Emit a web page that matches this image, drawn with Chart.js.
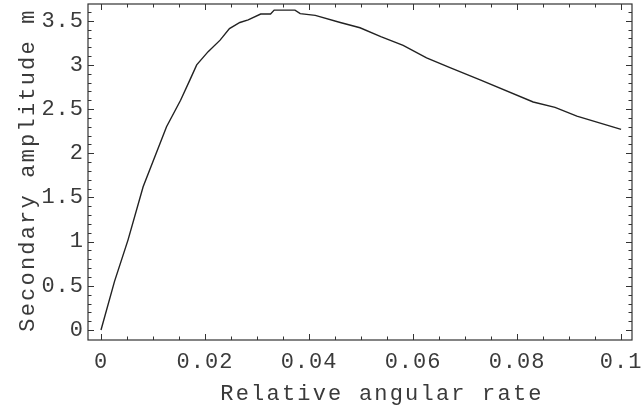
<!DOCTYPE html>
<html><head><meta charset="utf-8">
<script src="https://cdn.jsdelivr.net/npm/chart.js@4/dist/chart.umd.min.js"></script>
<style>html,body{margin:0;padding:0;background:#fff}#wrap{width:642px;height:408px}</style>
</head><body><div id="wrap"><canvas id="c" width="642" height="408"></canvas></div>
<script>
const rateValues = [0, 0.0026, 0.0052, 0.0081, 0.0126, 0.0153, 0.0171, 0.0184, 0.0206, 0.0229, 0.0247, 0.0267, 0.0283, 0.0307, 0.0326, 0.0333, 0.0373, 0.0383, 0.0412, 0.046, 0.0498, 0.0538, 0.0581, 0.0626, 0.0671, 0.0729, 0.0831, 0.0873, 0.0915, 0.1];
const amplitudeValues = [0, 0.55, 1.02, 1.62, 2.30, 2.60, 2.83, 3.0, 3.15, 3.28, 3.41, 3.48, 3.51, 3.575, 3.575, 3.62, 3.62, 3.58, 3.56, 3.48, 3.42, 3.32, 3.22, 3.08, 2.97, 2.83, 2.58, 2.52, 2.42, 2.27];
const xTickValues = [0, 0.02, 0.04, 0.06, 0.08, 0.1];
const yTickValues = [0, 0.5, 1, 1.5, 2, 2.5, 3, 3.5];
const xMinorTicks = [0.005,0.01,0.015,0.025,0.03,0.035,0.045,0.05,0.055,0.065,0.07,0.075,0.085,0.09,0.095];
const yMinorTicks = [0.1,0.2,0.3,0.4,0.6,0.7,0.8,0.9,1.1,1.2,1.3,1.4,1.6,1.7,1.8,1.9,2.1,2.2,2.3,2.4,2.6,2.7,2.8,2.9,3.1,3.2,3.3,3.4,3.6];
const xTitle = 'Relative angular rate';
const yTitle = 'Secondary amplitude m';

const FONT = '"Liberation Mono", monospace';
const TEXT = '#3a3a3a';

const fmt = v => String(parseFloat(Number(v).toFixed(4)));

const framePlugin = {
  id: 'frame',
  beforeDraw(chart) { chart.ctx.letterSpacing = '1px'; },
  afterDraw(chart) {
    const { ctx, chartArea: a, scales: { x, y } } = chart;
    ctx.save();
    ctx.letterSpacing = '0px';
    ctx.strokeStyle = '#333';
    ctx.lineWidth = 1.2;
    ctx.strokeRect(a.left, a.top, a.right - a.left, a.bottom - a.top);
    ctx.lineWidth = 1;
    ctx.beginPath();
    const xt = (v, len) => {
      const p = Math.round(x.getPixelForValue(v)) + 0.5;
      ctx.moveTo(p, a.bottom); ctx.lineTo(p, a.bottom - len);
      ctx.moveTo(p, a.top); ctx.lineTo(p, a.top + len);
    };
    const yt = (v, len) => {
      const p = Math.round(y.getPixelForValue(v)) + 0.5;
      ctx.moveTo(a.left, p); ctx.lineTo(a.left + len, p);
      ctx.moveTo(a.right, p); ctx.lineTo(a.right - len, p);
    };
    xTickValues.forEach(v => xt(v, 6));
    xMinorTicks.forEach(v => xt(v, 3.5));
    yTickValues.forEach(v => yt(v, 6));
    yMinorTicks.forEach(v => yt(v, 3.5));
    ctx.stroke();

    ctx.fillStyle = TEXT;
    ctx.font = '22px ' + FONT;
    ctx.letterSpacing = '2.2px';
    ctx.textAlign = 'center';
    ctx.textBaseline = 'alphabetic';
    ctx.fillText(xTitle, (a.left + a.right) / 2 + 22, 400);
    ctx.save();
    ctx.translate(34, (a.top + a.bottom) / 2 - 2);
    ctx.rotate(-Math.PI / 2);
    ctx.fillText(yTitle, 0, 0);
    ctx.restore();
    ctx.restore();
  }
};

new Chart(document.getElementById('c'), {
  type: 'scatter',
  data: {
    datasets: [{
      data: rateValues.map((r, i) => ({ x: r, y: amplitudeValues[i] })),
      showLine: true,
      borderColor: '#222',
      borderWidth: 1.4,
      pointRadius: 0,
      tension: 0,
      fill: false
    }]
  },
  options: {
    responsive: false,
    devicePixelRatio: 1,
    animation: false,
    layout: { padding: { left: 0, top: 4, right: 10, bottom: 0 } },
    plugins: { legend: { display: false }, tooltip: { enabled: false } },
    scales: {
      x: {
        type: 'linear', min: -0.0025, max: 0.1021,
        afterBuildTicks: s => { s.ticks = xTickValues.map(v => ({ value: v })); },
        afterFit: s => { s.height = 68; s.paddingLeft = 0; s.paddingRight = 0; },
        grid: { display: false, drawTicks: false },
        border: { display: false },
        ticks: { color: TEXT, font: { family: FONT, size: 22 }, padding: 9, maxRotation: 0, autoSkip: false, callback: v => fmt(v) }
      },
      y: {
        type: 'linear', min: -0.113, max: 3.689,
        afterBuildTicks: s => { s.ticks = yTickValues.map(v => ({ value: v })); },
        afterFit: s => { s.width = 88; s.paddingTop = 0; s.paddingBottom = 0; },
        grid: { display: false, drawTicks: false },
        border: { display: false },
        ticks: { color: TEXT, font: { family: FONT, size: 22 }, padding: 4, autoSkip: false, callback: v => fmt(v) }
      }
    }
  },
  plugins: [framePlugin]
});
</script></body></html>
